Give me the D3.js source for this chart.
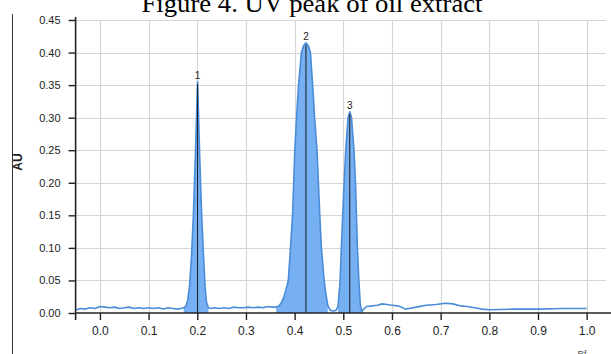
<!DOCTYPE html>
<meta charset="utf-8">
<style>
body { margin: 0; background: #fff; }
svg { display: block; }
.tick text { font-family: "Liberation Sans", Arial, sans-serif; fill: #222; }
</style>
<body>
<svg id="chart" width="611" height="354"></svg>
<script src="https://d3js.org/d3.v7.min.js"></script>
<script>
// chromatogram trace (Rf vs absorbance)
var rfValues = [-0.048, -0.04, -0.03, -0.02, -0.01, 0.0, 0.01, 0.02, 0.03, 0.04, 0.05, 0.06, 0.07, 0.08, 0.09,
  0.10, 0.11, 0.12, 0.13, 0.14, 0.15, 0.16, 0.166, 0.172, 0.176, 0.180, 0.184, 0.188, 0.192, 0.196, 0.2006,
  0.205, 0.209, 0.213, 0.216, 0.219, 0.223, 0.228, 0.235, 0.245, 0.255, 0.265, 0.275, 0.285, 0.295, 0.305,
  0.315, 0.325, 0.335, 0.345, 0.355, 0.362, 0.368, 0.373, 0.378, 0.383, 0.387, 0.3915, 0.3957, 0.4004, 0.404,
  0.408, 0.414, 0.418, 0.4233, 0.4285, 0.4325, 0.437, 0.441, 0.446, 0.4517, 0.455, 0.4606, 0.464, 0.468, 0.473,
  0.480, 0.485, 0.489, 0.4935, 0.496, 0.5017, 0.505, 0.5098, 0.5133, 0.5168, 0.522, 0.525, 0.529, 0.532, 0.535,
  0.538, 0.542, 0.548, 0.560, 0.570, 0.580, 0.590, 0.600, 0.612, 0.620, 0.627, 0.635, 0.650, 0.670, 0.690,
  0.710, 0.725, 0.740, 0.755, 0.770, 0.785, 0.800, 0.850, 0.900, 0.950, 1.000];
var auValues = [0.005, 0.007, 0.006, 0.008, 0.007, 0.010, 0.009, 0.008, 0.009, 0.007, 0.008, 0.009, 0.007, 0.008, 0.007,
  0.008, 0.007, 0.008, 0.006, 0.008, 0.007, 0.006, 0.007, 0.008, 0.010, 0.018, 0.040, 0.085, 0.150, 0.240, 0.355,
  0.240, 0.150, 0.085, 0.040, 0.016, 0.008, 0.007, 0.008, 0.007, 0.008, 0.007, 0.009, 0.008, 0.008, 0.009,
  0.008, 0.009, 0.008, 0.010, 0.009, 0.009, 0.011, 0.016, 0.025, 0.038, 0.050, 0.100, 0.150, 0.250, 0.300,
  0.350, 0.400, 0.410, 0.415, 0.410, 0.400, 0.350, 0.300, 0.250, 0.150, 0.100, 0.050, 0.030, 0.012, 0.004,
  0.003, 0.004, 0.010, 0.050, 0.100, 0.200, 0.250, 0.300, 0.309, 0.300, 0.250, 0.200, 0.100, 0.050, 0.012,
  0.002, 0.006, 0.010, 0.011, 0.012, 0.014, 0.013, 0.012, 0.011, 0.009, 0.006, 0.007, 0.009, 0.012, 0.013,
  0.015, 0.014, 0.011, 0.010, 0.008, 0.006, 0.005, 0.006, 0.006, 0.007, 0.007];

// detected peaks
var peakLabels = ["1", "2", "3"];
var peakRf = [0.2006, 0.4233, 0.5133];
var peakAu = [0.355, 0.415, 0.309];
var peakStart = [0.170, 0.360, 0.486];
var peakEnd = [0.224, 0.470, 0.538];

var xTicks = [0.0, 0.1, 0.2, 0.3, 0.4, 0.5, 0.6, 0.7, 0.8, 0.9, 1.0];
var yTicks = [0.00, 0.05, 0.10, 0.15, 0.20, 0.25, 0.30, 0.35, 0.40, 0.45];

var svg = d3.select("#chart");
var plotLeft = 75.6, plotRight = 611, plotTop = 20, plotBottom = 313;

var x = d3.scaleLinear().domain([-0.05, 1.05]).range([plotLeft, plotRight]);
var y = d3.scaleLinear().domain([0, 0.45]).range([plotBottom, plotTop]);

var points = rfValues.map(function(d, i) { return {rf: d, au: auValues[i]}; });

// title (cut off at the top in the original)
svg.append("text")
  .attr("x", 312).attr("y", 11.5)
  .attr("text-anchor", "middle")
  .attr("textLength", 341)
  .attr("lengthAdjust", "spacingAndGlyphs")
  .style("font-family", "'Liberation Serif', 'Times New Roman', serif")
  .style("font-size", "26px")
  .text("Figure 4. UV peak of oil extract");

// frame line on the left
svg.append("line")
  .attr("x1", 12.5).attr("x2", 12.5).attr("y1", 14).attr("y2", 354)
  .attr("stroke", "#333").attr("stroke-width", 1);

// grid
svg.append("g").selectAll("line")
  .data(yTicks.slice(1))
  .enter().append("line")
    .attr("x1", plotLeft).attr("x2", 606)
    .attr("y1", function(d) { return Math.round(y(d)) + 0.5; })
    .attr("y2", function(d) { return Math.round(y(d)) + 0.5; })
    .attr("stroke", "#d6d6d6").attr("stroke-width", 1.2);

svg.append("g").selectAll("line")
  .data(xTicks)
  .enter().append("line")
    .attr("x1", function(d) { return Math.round(x(d)) + 0.5; })
    .attr("x2", function(d) { return Math.round(x(d)) + 0.5; })
    .attr("y1", plotTop).attr("y2", plotBottom)
    .attr("stroke", "#d6d6d6").attr("stroke-width", 1.2);

// filled peaks
var area = d3.area()
  .x(function(d) { return x(d.rf); })
  .y0(y(0))
  .y1(function(d) { return y(d.au); });

peakStart.forEach(function(s, i) {
  var seg = points.filter(function(d) { return d.rf >= s && d.rf <= peakEnd[i]; });
  svg.append("path")
    .datum(seg)
    .attr("d", area)
    .attr("fill", "#76b0f2");
});

// trace line
var line = d3.line()
  .x(function(d) { return x(d.rf); })
  .y(function(d) { return y(d.au); });

svg.append("path")
  .datum(points)
  .attr("d", line)
  .attr("fill", "none")
  .attr("stroke", "#4a8cd8")
  .attr("stroke-width", 1.6)
  .attr("stroke-linejoin", "round");

// peak markers
svg.append("g").selectAll("line")
  .data(peakRf)
  .enter().append("line")
    .attr("x1", function(d) { return x(d); })
    .attr("x2", function(d) { return x(d); })
    .attr("y1", function(d, i) { return y(peakAu[i]) + 2; })
    .attr("y2", plotBottom)
    .attr("stroke", "#1a1a1a").attr("stroke-width", 1);

svg.append("g").selectAll("text")
  .data(peakLabels)
  .enter().append("text")
    .attr("x", function(d, i) { return x(peakRf[i]); })
    .attr("y", function(d, i) { return y(peakAu[i]) - 3; })
    .attr("text-anchor", "middle")
    .style("font-family", "'Liberation Sans', Arial, sans-serif")
    .style("font-size", "10px")
    .attr("fill", "#222")
    .text(function(d) { return d; });

// axes
var xAxis = svg.append("g")
  .attr("transform", "translate(0," + plotBottom + ")")
  .call(d3.axisBottom(x).tickValues(xTicks).tickFormat(d3.format(".1f")).tickSize(7).tickSizeOuter(0).tickPadding(6));
xAxis.selectAll("text").style("font-size", "12px");

var yAxis = svg.append("g")
  .attr("transform", "translate(" + plotLeft + ",0)")
  .call(d3.axisLeft(y).tickValues(yTicks).tickFormat(d3.format(".2f")).tickSize(7).tickSizeOuter(0).tickPadding(8));
yAxis.selectAll("text").style("font-size", "11px");

svg.selectAll(".domain").attr("stroke", "#222").attr("stroke-width", 1.6);
svg.selectAll(".tick line").attr("stroke", "#222").attr("stroke-width", 1.4);
xAxis.select(".domain").attr("d", "M" + plotLeft + ",0H" + plotRight);
yAxis.select(".domain").attr("d", "M0," + (plotTop - 3) + "V" + (plotBottom + 7));

// axis titles
svg.append("text")
  .attr("transform", "translate(22,162) rotate(-90)")
  .attr("text-anchor", "middle")
  .style("font-family", "'Liberation Sans', Arial, sans-serif")
  .style("font-size", "12px")
  .style("font-weight", "bold")
  .attr("fill", "#222")
  .text("AU");

svg.append("text")
  .attr("x", 582).attr("y", 357)
  .attr("text-anchor", "middle")
  .style("font-family", "'Liberation Sans', Arial, sans-serif")
  .style("font-size", "9px")
  .attr("fill", "#555")
  .text("Rf");
</script>
</body>
